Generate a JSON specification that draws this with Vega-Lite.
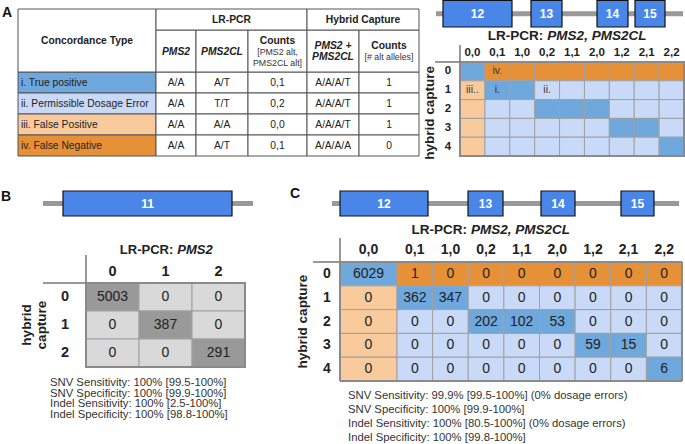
{
"$schema": "https://vega.github.io/schema/vega-lite/v6.json",
"width": 685, "height": 444, "padding": 0,
"autosize": {"type": "none"},
"background": "#ffffff",
"config": {
 "view": {"stroke": null},
 "axis": {"disable": true},
 "legend": {"disable": true},
 "font": "Liberation Sans",
 "text": {"font": "Liberation Sans", "fill": "#222222"}
},
"datasets": {
 "concordance": [
  {"type": "i. True positive", "cls": "tp", "PMS2": "A/A", "PMS2CL": "A/T", "Counts": "0,1", "HC": "A/A/A/T", "HCcounts": "1"},
  {"type": "ii. Permissible Dosage Error", "cls": "pde", "PMS2": "A/A", "PMS2CL": "T/T", "Counts": "0,2", "HC": "A/A/A/T", "HCcounts": "1"},
  {"type": "iii. False Positive", "cls": "fp", "PMS2": "A/A", "PMS2CL": "A/A", "Counts": "0,0", "HC": "A/A/A/T", "HCcounts": "1"},
  {"type": "iv. False Negative", "cls": "fn", "PMS2": "A/A", "PMS2CL": "A/T", "Counts": "0,1", "HC": "A/A/A/A", "HCcounts": "0"}
 ],
 "tableHeader": [
  {"col": "type", "part": "title", "text": "Concordance Type"},
  {"col": "type", "part": "panel", "text": "A"},
  {"col": "LR-PCR", "part": "title", "text": "LR-PCR"},
  {"col": "Hybrid Capture", "part": "title", "text": "Hybrid Capture"},
  {"col": "PMS2", "part": "gene", "text": "PMS2"},
  {"col": "PMS2CL", "part": "gene", "text": "PMS2CL"},
  {"col": "Counts", "part": "title", "text": "Counts"},
  {"col": "Counts", "part": "note", "text": ["[PMS2 alt,", "PMS2CL alt]"]},
  {"col": "HC", "part": "gene", "text": ["PMS2 +", "PMS2CL"]},
  {"col": "HCcounts", "part": "title", "text": "Counts"},
  {"col": "HCcounts", "part": "note", "text": "[# alt alleles]"}
 ],
 "exons": [
  {"panel": "A", "feature": "gene", "exon": "", "pos": 0},
  {"panel": "A", "feature": "gene", "exon": "", "pos": 247},
  {"panel": "A", "feature": "exon", "exon": "12", "pos": 7},
  {"panel": "A", "feature": "exon", "exon": "12", "pos": 76},
  {"panel": "A", "feature": "exon", "exon": "13", "pos": 95},
  {"panel": "A", "feature": "exon", "exon": "13", "pos": 126},
  {"panel": "A", "feature": "exon", "exon": "14", "pos": 161},
  {"panel": "A", "feature": "exon", "exon": "14", "pos": 192},
  {"panel": "A", "feature": "exon", "exon": "15", "pos": 199},
  {"panel": "A", "feature": "exon", "exon": "15", "pos": 229},
  {"panel": "B", "feature": "gene", "exon": "", "pos": 0},
  {"panel": "B", "feature": "gene", "exon": "", "pos": 210},
  {"panel": "B", "feature": "exon", "exon": "11", "pos": 20},
  {"panel": "B", "feature": "exon", "exon": "11", "pos": 189},
  {"panel": "C", "feature": "gene", "exon": "", "pos": 0},
  {"panel": "C", "feature": "gene", "exon": "", "pos": 347},
  {"panel": "C", "feature": "exon", "exon": "12", "pos": 8},
  {"panel": "C", "feature": "exon", "exon": "12", "pos": 96},
  {"panel": "C", "feature": "exon", "exon": "13", "pos": 136},
  {"panel": "C", "feature": "exon", "exon": "13", "pos": 171},
  {"panel": "C", "feature": "exon", "exon": "14", "pos": 209},
  {"panel": "C", "feature": "exon", "exon": "14", "pos": 243},
  {"panel": "C", "feature": "exon", "exon": "15", "pos": 289},
  {"panel": "C", "feature": "exon", "exon": "15", "pos": 322}
 ],
 "gridA": [
  {"pcr": "0,0", "hc": "0", "cls": "tn"}, {"pcr": "0,1", "hc": "0", "cls": "fn", "note": "iv."}, {"pcr": "1,0", "hc": "0", "cls": "fn"}, {"pcr": "0,2", "hc": "0", "cls": "fn"}, {"pcr": "1,1", "hc": "0", "cls": "fn"}, {"pcr": "2,0", "hc": "0", "cls": "fn"}, {"pcr": "1,2", "hc": "0", "cls": "fn"}, {"pcr": "2,1", "hc": "0", "cls": "fn"}, {"pcr": "2,2", "hc": "0", "cls": "fn"},
  {"pcr": "0,0", "hc": "1", "cls": "fp", "note": "iii.."}, {"pcr": "0,1", "hc": "1", "cls": "tp", "note": "i."}, {"pcr": "1,0", "hc": "1", "cls": "tp"}, {"pcr": "0,2", "hc": "1", "cls": "pde", "note": "ii."}, {"pcr": "1,1", "hc": "1", "cls": "pde"}, {"pcr": "2,0", "hc": "1", "cls": "pde"}, {"pcr": "1,2", "hc": "1", "cls": "pde"}, {"pcr": "2,1", "hc": "1", "cls": "pde"}, {"pcr": "2,2", "hc": "1", "cls": "pde"},
  {"pcr": "0,0", "hc": "2", "cls": "fp"}, {"pcr": "0,1", "hc": "2", "cls": "pde"}, {"pcr": "1,0", "hc": "2", "cls": "pde"}, {"pcr": "0,2", "hc": "2", "cls": "tp"}, {"pcr": "1,1", "hc": "2", "cls": "tp"}, {"pcr": "2,0", "hc": "2", "cls": "tp"}, {"pcr": "1,2", "hc": "2", "cls": "pde"}, {"pcr": "2,1", "hc": "2", "cls": "pde"}, {"pcr": "2,2", "hc": "2", "cls": "pde"},
  {"pcr": "0,0", "hc": "3", "cls": "fp"}, {"pcr": "0,1", "hc": "3", "cls": "pde"}, {"pcr": "1,0", "hc": "3", "cls": "pde"}, {"pcr": "0,2", "hc": "3", "cls": "pde"}, {"pcr": "1,1", "hc": "3", "cls": "pde"}, {"pcr": "2,0", "hc": "3", "cls": "pde"}, {"pcr": "1,2", "hc": "3", "cls": "tp"}, {"pcr": "2,1", "hc": "3", "cls": "tp"}, {"pcr": "2,2", "hc": "3", "cls": "pde"},
  {"pcr": "0,0", "hc": "4", "cls": "fp"}, {"pcr": "0,1", "hc": "4", "cls": "pde"}, {"pcr": "1,0", "hc": "4", "cls": "pde"}, {"pcr": "0,2", "hc": "4", "cls": "pde"}, {"pcr": "1,1", "hc": "4", "cls": "pde"}, {"pcr": "2,0", "hc": "4", "cls": "pde"}, {"pcr": "1,2", "hc": "4", "cls": "pde"}, {"pcr": "2,1", "hc": "4", "cls": "pde"}, {"pcr": "2,2", "hc": "4", "cls": "tp"}
 ],
 "gridB": [
  {"pcr": "0", "hc": "0", "n": 5003, "cls": "agree"}, {"pcr": "1", "hc": "0", "n": 0, "cls": "disagree"}, {"pcr": "2", "hc": "0", "n": 0, "cls": "disagree"},
  {"pcr": "0", "hc": "1", "n": 0, "cls": "disagree"}, {"pcr": "1", "hc": "1", "n": 387, "cls": "agree"}, {"pcr": "2", "hc": "1", "n": 0, "cls": "disagree"},
  {"pcr": "0", "hc": "2", "n": 0, "cls": "disagree"}, {"pcr": "1", "hc": "2", "n": 0, "cls": "disagree"}, {"pcr": "2", "hc": "2", "n": 291, "cls": "agree"}
 ],
 "gridC": [
  {"pcr": "0,0", "hc": "0", "n": 6029, "cls": "tn"}, {"pcr": "0,1", "hc": "0", "n": 1, "cls": "fn"}, {"pcr": "1,0", "hc": "0", "n": 0, "cls": "fn"}, {"pcr": "0,2", "hc": "0", "n": 0, "cls": "fn"}, {"pcr": "1,1", "hc": "0", "n": 0, "cls": "fn"}, {"pcr": "2,0", "hc": "0", "n": 0, "cls": "fn"}, {"pcr": "1,2", "hc": "0", "n": 0, "cls": "fn"}, {"pcr": "2,1", "hc": "0", "n": 0, "cls": "fn"}, {"pcr": "2,2", "hc": "0", "n": 0, "cls": "fn"},
  {"pcr": "0,0", "hc": "1", "n": 0, "cls": "fp"}, {"pcr": "0,1", "hc": "1", "n": 362, "cls": "tp"}, {"pcr": "1,0", "hc": "1", "n": 347, "cls": "tp"}, {"pcr": "0,2", "hc": "1", "n": 0, "cls": "pde"}, {"pcr": "1,1", "hc": "1", "n": 0, "cls": "pde"}, {"pcr": "2,0", "hc": "1", "n": 0, "cls": "pde"}, {"pcr": "1,2", "hc": "1", "n": 0, "cls": "pde"}, {"pcr": "2,1", "hc": "1", "n": 0, "cls": "pde"}, {"pcr": "2,2", "hc": "1", "n": 0, "cls": "pde"},
  {"pcr": "0,0", "hc": "2", "n": 0, "cls": "fp"}, {"pcr": "0,1", "hc": "2", "n": 0, "cls": "pde"}, {"pcr": "1,0", "hc": "2", "n": 0, "cls": "pde"}, {"pcr": "0,2", "hc": "2", "n": 202, "cls": "tp"}, {"pcr": "1,1", "hc": "2", "n": 102, "cls": "tp"}, {"pcr": "2,0", "hc": "2", "n": 53, "cls": "tp"}, {"pcr": "1,2", "hc": "2", "n": 0, "cls": "pde"}, {"pcr": "2,1", "hc": "2", "n": 0, "cls": "pde"}, {"pcr": "2,2", "hc": "2", "n": 0, "cls": "pde"},
  {"pcr": "0,0", "hc": "3", "n": 0, "cls": "fp"}, {"pcr": "0,1", "hc": "3", "n": 0, "cls": "pde"}, {"pcr": "1,0", "hc": "3", "n": 0, "cls": "pde"}, {"pcr": "0,2", "hc": "3", "n": 0, "cls": "pde"}, {"pcr": "1,1", "hc": "3", "n": 0, "cls": "pde"}, {"pcr": "2,0", "hc": "3", "n": 0, "cls": "pde"}, {"pcr": "1,2", "hc": "3", "n": 59, "cls": "tp"}, {"pcr": "2,1", "hc": "3", "n": 15, "cls": "tp"}, {"pcr": "2,2", "hc": "3", "n": 0, "cls": "pde"},
  {"pcr": "0,0", "hc": "4", "n": 0, "cls": "fp"}, {"pcr": "0,1", "hc": "4", "n": 0, "cls": "pde"}, {"pcr": "1,0", "hc": "4", "n": 0, "cls": "pde"}, {"pcr": "0,2", "hc": "4", "n": 0, "cls": "pde"}, {"pcr": "1,1", "hc": "4", "n": 0, "cls": "pde"}, {"pcr": "2,0", "hc": "4", "n": 0, "cls": "pde"}, {"pcr": "1,2", "hc": "4", "n": 0, "cls": "pde"}, {"pcr": "2,1", "hc": "4", "n": 0, "cls": "pde"}, {"pcr": "2,2", "hc": "4", "n": 6, "cls": "tp"}
 ],
 "stats": [
  {"panel": "B", "line": 1, "text": "SNV Sensitivity: 100% [99.5-100%]"},
  {"panel": "B", "line": 2, "text": "SNV Specificity: 100% [99.9-100%]"},
  {"panel": "B", "line": 3, "text": "Indel Sensitivity: 100% [2.5-100%]"},
  {"panel": "B", "line": 4, "text": "Indel Specificity: 100% [98.8-100%]"},
  {"panel": "C", "line": 1, "text": "SNV Sensitivity: 99.9% [99.5-100%] (0% dosage errors)"},
  {"panel": "C", "line": 2, "text": "SNV Specificity: 100% [99.9-100%]"},
  {"panel": "C", "line": 3, "text": "Indel Sensitivity: 100% [80.5-100%] (0% dosage errors)"},
  {"panel": "C", "line": 4, "text": "Indel Specificity: 100% [99.8-100%]"}
 ]
},
"resolve": {"scale": {"x": "independent", "y": "independent", "color": "independent"}},
"layer": [
 {
  "resolve": {"scale": {"x": "independent"}},
  "layer": [
   {
    "encoding": {"x": {"field": "col", "type": "nominal", "scale": {"type": "band", "domain": ["type"], "range": [18, 156], "paddingInner": 0, "paddingOuter": 0}}},
    "layer": [
     {"data": {"name": "concordance"}, "transform": [{"fold": ["type"], "as": ["col", "val"]}],
      "encoding": {"y": {"field": "type", "type": "nominal", "scale": {"type": "band", "domain": ["head1", "head2", "head2b", "i. True positive", "ii. Permissible Dosage Error", "iii. False Positive", "iv. False Negative"], "range": [9, 156], "paddingInner": 0, "paddingOuter": 0}}},
      "layer": [
       {"mark": {"type": "rect", "stroke": "#555555", "strokeWidth": 1}, "encoding": {"color": {"field": "cls", "type": "nominal", "scale": {"domain": ["tp", "pde", "fp", "fn"], "range": ["#6fa8dc", "#c9daf8", "#f9cb9c", "#e69138"]}}}},
       {"mark": {"type": "text", "align": "left", "fontSize": 10.3, "dx": 3}, "encoding": {"x": {"field": "col", "type": "nominal", "bandPosition": 0}, "text": {"field": "val"}}}
      ]},
     {"data": {"name": "tableHeader"}, "transform": [{"filter": "datum.col == 'type'"}],
      "layer": [
       {"transform": [{"filter": "datum.part == 'title'"}], "mark": {"type": "rect", "fill": "#ffffff", "stroke": "#555555", "strokeWidth": 1}, "encoding": {"y": {"datum": "head1", "bandPosition": 0}, "y2": {"datum": "i. True positive", "bandPosition": 0}}},
       {"transform": [{"filter": "datum.part == 'title'"}], "mark": {"type": "text", "fontSize": 10.3, "fontWeight": "bold"}, "encoding": {"y": {"datum": "head2", "bandPosition": 0.5}, "text": {"field": "text"}}},
       {"transform": [{"filter": "datum.part == 'panel'"}], "mark": {"type": "text", "fontSize": 14, "fontWeight": "bold", "dx": -11, "fill": "#111111"}, "encoding": {"x": {"field": "col", "type": "nominal", "bandPosition": 0}, "y": {"datum": "head1", "bandPosition": 0.2}, "text": {"field": "text"}}}
      ]}
    ]
   },
   {
    "encoding": {"x": {"field": "col", "type": "nominal", "scale": {"type": "band", "domain": ["PMS2"], "range": [156, 196], "paddingInner": 0, "paddingOuter": 0}}},
    "layer": [
     {"data": {"name": "concordance"}, "transform": [{"fold": ["PMS2"], "as": ["col", "val"]}],
      "encoding": {"y": {"field": "type", "type": "nominal"}},
      "layer": [
       {"mark": {"type": "rect", "fill": "#ffffff", "stroke": "#555555", "strokeWidth": 1}},
       {"mark": {"type": "text", "fontSize": 10.3}, "encoding": {"text": {"field": "val"}}}
      ]},
     {"data": {"name": "tableHeader"}, "transform": [{"filter": "datum.col == 'PMS2'"}],
      "layer": [
       {"mark": {"type": "rect", "fill": "#ffffff", "stroke": "#555555", "strokeWidth": 1}, "encoding": {"y": {"datum": "head2", "bandPosition": 0}, "y2": {"datum": "i. True positive", "bandPosition": 0}}},
       {"mark": {"type": "text", "fontSize": 10.3, "fontWeight": "bold", "fontStyle": "italic"}, "encoding": {"y": {"datum": "head2b", "bandPosition": 0.05}, "text": {"field": "text"}}}
      ]}
    ]
   },
   {
    "encoding": {"x": {"field": "col", "type": "nominal", "scale": {"type": "band", "domain": ["PMS2CL"], "range": [196, 248], "paddingInner": 0, "paddingOuter": 0}}},
    "layer": [
     {"data": {"name": "concordance"}, "transform": [{"fold": ["PMS2CL"], "as": ["col", "val"]}],
      "encoding": {"y": {"field": "type", "type": "nominal"}},
      "layer": [
       {"mark": {"type": "rect", "fill": "#ffffff", "stroke": "#555555", "strokeWidth": 1}},
       {"mark": {"type": "text", "fontSize": 10.3}, "encoding": {"text": {"field": "val"}}}
      ]},
     {"data": {"name": "tableHeader"}, "transform": [{"filter": "datum.col == 'PMS2CL'"}],
      "layer": [
       {"mark": {"type": "rect", "fill": "#ffffff", "stroke": "#555555", "strokeWidth": 1}, "encoding": {"y": {"datum": "head2", "bandPosition": 0}, "y2": {"datum": "i. True positive", "bandPosition": 0}}},
       {"mark": {"type": "text", "fontSize": 10.3, "fontWeight": "bold", "fontStyle": "italic"}, "encoding": {"y": {"datum": "head2b", "bandPosition": 0.05}, "text": {"field": "text"}}}
      ]}
    ]
   },
   {
    "encoding": {"x": {"field": "col", "type": "nominal", "scale": {"type": "band", "domain": ["Counts"], "range": [248, 307], "paddingInner": 0, "paddingOuter": 0}}},
    "layer": [
     {"data": {"name": "concordance"}, "transform": [{"fold": ["Counts"], "as": ["col", "val"]}],
      "encoding": {"y": {"field": "type", "type": "nominal"}},
      "layer": [
       {"mark": {"type": "rect", "fill": "#ffffff", "stroke": "#555555", "strokeWidth": 1}},
       {"mark": {"type": "text", "fontSize": 10.3}, "encoding": {"text": {"field": "val"}}}
      ]},
     {"data": {"name": "tableHeader"}, "transform": [{"filter": "datum.col == 'Counts'"}],
      "layer": [
       {"transform": [{"filter": "datum.part == 'title'"}], "mark": {"type": "rect", "fill": "#ffffff", "stroke": "#555555", "strokeWidth": 1}, "encoding": {"y": {"datum": "head2", "bandPosition": 0}, "y2": {"datum": "i. True positive", "bandPosition": 0}}},
       {"transform": [{"filter": "datum.part == 'title'"}], "mark": {"type": "text", "fontSize": 10.3, "fontWeight": "bold"}, "encoding": {"y": {"datum": "head2", "bandPosition": 0.52}, "text": {"field": "text"}}},
       {"transform": [{"filter": "datum.part == 'note'"}], "mark": {"type": "text", "fontSize": 8.8, "lineHeight": 11, "fill": "#333333"}, "encoding": {"y": {"datum": "head2b", "bandPosition": 0.05}, "text": {"field": "text"}}}
      ]}
    ]
   },
   {
    "encoding": {"x": {"field": "col", "type": "nominal", "scale": {"type": "band", "domain": ["HC"], "range": [307, 359], "paddingInner": 0, "paddingOuter": 0}}},
    "layer": [
     {"data": {"name": "concordance"}, "transform": [{"fold": ["HC"], "as": ["col", "val"]}],
      "encoding": {"y": {"field": "type", "type": "nominal"}},
      "layer": [
       {"mark": {"type": "rect", "fill": "#ffffff", "stroke": "#555555", "strokeWidth": 1}},
       {"mark": {"type": "text", "fontSize": 10.3}, "encoding": {"text": {"field": "val"}}}
      ]},
     {"data": {"name": "tableHeader"}, "transform": [{"filter": "datum.col == 'HC'"}],
      "layer": [
       {"mark": {"type": "rect", "fill": "#ffffff", "stroke": "#555555", "strokeWidth": 1}, "encoding": {"y": {"datum": "head2", "bandPosition": 0}, "y2": {"datum": "i. True positive", "bandPosition": 0}}},
       {"mark": {"type": "text", "fontSize": 10.3, "fontWeight": "bold", "fontStyle": "italic", "lineHeight": 11}, "encoding": {"y": {"datum": "head2", "bandPosition": 0.76}, "text": {"field": "text"}}}
      ]}
    ]
   },
   {
    "encoding": {"x": {"field": "col", "type": "nominal", "scale": {"type": "band", "domain": ["HCcounts"], "range": [359, 419], "paddingInner": 0, "paddingOuter": 0}}},
    "layer": [
     {"data": {"name": "concordance"}, "transform": [{"fold": ["HCcounts"], "as": ["col", "val"]}],
      "encoding": {"y": {"field": "type", "type": "nominal"}},
      "layer": [
       {"mark": {"type": "rect", "fill": "#ffffff", "stroke": "#555555", "strokeWidth": 1}},
       {"mark": {"type": "text", "fontSize": 10.3}, "encoding": {"text": {"field": "val"}}}
      ]},
     {"data": {"name": "tableHeader"}, "transform": [{"filter": "datum.col == 'HCcounts'"}],
      "layer": [
       {"transform": [{"filter": "datum.part == 'title'"}], "mark": {"type": "rect", "fill": "#ffffff", "stroke": "#555555", "strokeWidth": 1}, "encoding": {"y": {"datum": "head2", "bandPosition": 0}, "y2": {"datum": "i. True positive", "bandPosition": 0}}},
       {"transform": [{"filter": "datum.part == 'title'"}], "mark": {"type": "text", "fontSize": 10.3, "fontWeight": "bold"}, "encoding": {"y": {"datum": "head2", "bandPosition": 0.76}, "text": {"field": "text"}}},
       {"transform": [{"filter": "datum.part == 'note'"}], "mark": {"type": "text", "fontSize": 8.8, "fill": "#333333"}, "encoding": {"y": {"datum": "head2b", "bandPosition": 0.29}, "text": {"field": "text"}}}
      ]}
    ]
   },
   {
    "data": {"name": "tableHeader"}, "transform": [{"filter": "datum.col == 'LR-PCR'"}],
    "encoding": {"x": {"field": "col", "type": "nominal", "scale": {"type": "band", "domain": ["LR-PCR"], "range": [156, 307], "paddingInner": 0, "paddingOuter": 0}}},
    "layer": [
     {"mark": {"type": "rect", "fill": "#ffffff", "stroke": "#555555", "strokeWidth": 1}, "encoding": {"y": {"datum": "head1", "bandPosition": 0}, "y2": {"datum": "head2", "bandPosition": 0}}},
     {"mark": {"type": "text", "fontSize": 10.3, "fontWeight": "bold"}, "encoding": {"y": {"datum": "head1", "bandPosition": 0.5}, "text": {"field": "text"}}}
    ]
   },
   {
    "data": {"name": "tableHeader"}, "transform": [{"filter": "datum.col == 'Hybrid Capture'"}],
    "encoding": {"x": {"field": "col", "type": "nominal", "scale": {"type": "band", "domain": ["Hybrid Capture"], "range": [307, 419], "paddingInner": 0, "paddingOuter": 0}}},
    "layer": [
     {"mark": {"type": "rect", "fill": "#ffffff", "stroke": "#555555", "strokeWidth": 1}, "encoding": {"y": {"datum": "head1", "bandPosition": 0}, "y2": {"datum": "head2", "bandPosition": 0}}},
     {"mark": {"type": "text", "fontSize": 10.3, "fontWeight": "bold"}, "encoding": {"y": {"datum": "head1", "bandPosition": 0.5}, "text": {"field": "text"}}}
    ]
   }
  ]
 },
 {
  "data": {"name": "exons"}, "transform": [{"filter": "datum.panel == 'A'"}],
  "encoding": {"y": {"field": "panel", "type": "nominal", "scale": {"type": "band", "range": [0.5, 27], "paddingInner": 0, "paddingOuter": 0}}},
  "layer": [
   {"transform": [{"filter": "datum.feature == 'gene'"}], "mark": {"type": "rule", "stroke": "#999999", "strokeWidth": 5}, "encoding": {"x": {"field": "pos", "type": "quantitative", "aggregate": "min", "scale": {"domain": [0, 247], "range": [436, 683], "zero": false, "nice": false}}, "x2": {"field": "pos", "aggregate": "max"}, "y": {"field": "panel", "type": "nominal", "bandPosition": 0.5}}},
   {"transform": [{"filter": "datum.feature == 'exon'"}], "mark": {"type": "rect", "fill": "#4a86e8", "stroke": "#111111", "strokeWidth": 1.2}, "encoding": {"x": {"field": "pos", "type": "quantitative", "aggregate": "min"}, "x2": {"field": "pos", "aggregate": "max"}, "detail": {"field": "exon", "type": "nominal"}}},
   {"transform": [{"filter": "datum.feature == 'exon'"}], "mark": {"type": "text", "fill": "#ffffff", "fontWeight": "bold", "fontSize": 12}, "encoding": {"x": {"field": "pos", "type": "quantitative", "aggregate": "mean"}, "text": {"field": "exon", "type": "nominal"}}}
  ]
 },
 {
  "data": {"name": "gridA"},
  "encoding": {
   "x": {"field": "pcr", "type": "nominal", "scale": {"type": "band", "domain": ["0,0", "0,1", "1,0", "0,2", "1,1", "2,0", "1,2", "2,1", "2,2"], "range": [460, 684], "paddingInner": 0, "paddingOuter": 0}},
   "y": {"field": "hc", "type": "nominal", "scale": {"type": "band", "domain": ["0", "1", "2", "3", "4"], "range": [62, 156], "paddingInner": 0, "paddingOuter": 0}}
  },
  "layer": [
   {"mark": {"type": "rect", "stroke": "#a0a0a0", "strokeWidth": 1}, "encoding": {"color": {"field": "cls", "type": "nominal", "scale": {"domain": ["tn", "tp", "pde", "fp", "fn"], "range": ["#6fa8dc", "#6fa8dc", "#c9daf8", "#f9cb9c", "#e69138"]}}}},
   {"transform": [{"filter": "isValid(datum.note)"}], "mark": {"type": "text", "fontSize": 10.5, "fill": "#333333"}, "encoding": {"text": {"field": "note"}}},
   {"transform": [{"filter": "datum.hc == '0'"}], "mark": {"type": "text", "fontSize": 11.5, "fontWeight": "bold", "dy": -9}, "encoding": {"y": {"datum": "0", "bandPosition": 0}, "text": {"field": "pcr"}}},
   {"transform": [{"filter": "datum.pcr == '0,0'"}], "mark": {"type": "text", "fontSize": 11.5, "fontWeight": "bold", "dx": -12}, "encoding": {"x": {"datum": "0,0", "bandPosition": 0}, "text": {"field": "hc"}}},
   {"transform": [{"filter": "datum.pcr == '0,0' && datum.hc == '0'"}],
    "layer": [
     {"mark": {"type": "rect", "fillOpacity": 0, "stroke": "#8a8a8a", "strokeWidth": 2}, "encoding": {"x": {"datum": "0,0", "bandPosition": 0}, "x2": {"datum": "2,2", "bandPosition": 1}, "y": {"datum": "0", "bandPosition": 0}, "y2": {"datum": "4", "bandPosition": 1}}},
     {"mark": {"type": "rule", "stroke": "#777777", "strokeWidth": 1.5, "y2Offset": -17}, "encoding": {"x": {"datum": "0,0", "bandPosition": 0}, "y": {"datum": "0", "bandPosition": 0}, "y2": {"datum": "0", "bandPosition": 0}}},
     {"mark": {"type": "rule", "stroke": "#777777", "strokeWidth": 1.5, "x2Offset": -25}, "encoding": {"x": {"datum": "0,0", "bandPosition": 0}, "x2": {"datum": "0,0", "bandPosition": 0}, "y": {"datum": "0", "bandPosition": 0}}},
     {"mark": {"type": "text", "align": "right", "fontSize": 13.5, "fontWeight": "bold", "dx": -2, "dy": -26}, "encoding": {"x": {"datum": "0,2", "bandPosition": 0.43}, "y": {"datum": "0", "bandPosition": 0}, "text": {"value": "LR-PCR:"}}},
     {"mark": {"type": "text", "align": "left", "fontSize": 13.5, "fontWeight": "bold", "fontStyle": "italic", "dx": 2, "dy": -26}, "encoding": {"x": {"datum": "0,2", "bandPosition": 0.43}, "y": {"datum": "0", "bandPosition": 0}, "text": {"value": "PMS2, PMS2CL"}}},
     {"mark": {"type": "text", "angle": 270, "fontSize": 13.5, "fontWeight": "bold", "dy": -30}, "encoding": {"x": {"datum": "0,0", "bandPosition": 0}, "y": {"datum": "2", "bandPosition": 0.7}, "text": {"value": "hybrid capture"}}}
    ]}
  ]
 },
 {
  "data": {"name": "exons"}, "transform": [{"filter": "datum.panel == 'B'"}],
  "encoding": {"y": {"field": "panel", "type": "nominal", "scale": {"type": "band", "range": [191, 216], "paddingInner": 0, "paddingOuter": 0}}},
  "layer": [
   {"transform": [{"filter": "datum.feature == 'gene'"}], "mark": {"type": "rule", "stroke": "#999999", "strokeWidth": 5}, "encoding": {"x": {"field": "pos", "type": "quantitative", "aggregate": "min", "scale": {"domain": [0, 210], "range": [43, 253], "zero": false, "nice": false}}, "x2": {"field": "pos", "aggregate": "max"}, "y": {"field": "panel", "type": "nominal", "bandPosition": 0.5}}},
   {"transform": [{"filter": "datum.feature == 'exon'"}], "mark": {"type": "rect", "fill": "#4a86e8", "stroke": "#111111", "strokeWidth": 1.2}, "encoding": {"x": {"field": "pos", "type": "quantitative", "aggregate": "min"}, "x2": {"field": "pos", "aggregate": "max"}, "detail": {"field": "exon", "type": "nominal"}}},
   {"transform": [{"filter": "datum.feature == 'exon'"}], "mark": {"type": "text", "fill": "#ffffff", "fontWeight": "bold", "fontSize": 12}, "encoding": {"x": {"field": "pos", "type": "quantitative", "aggregate": "mean"}, "text": {"field": "exon", "type": "nominal"}}},
   {"transform": [{"filter": "datum.feature == 'gene'"}], "mark": {"type": "text", "fill": "#111111", "fontWeight": "bold", "fontSize": 14, "dx": -37, "dy": -7}, "encoding": {"x": {"field": "pos", "type": "quantitative", "aggregate": "min"}, "text": {"field": "panel", "type": "nominal"}}}
  ]
 },
 {
  "data": {"name": "gridB"},
  "encoding": {
   "x": {"field": "pcr", "type": "nominal", "scale": {"type": "band", "domain": ["0", "1", "2"], "range": [86, 245], "paddingInner": 0, "paddingOuter": 0}},
   "y": {"field": "hc", "type": "nominal", "scale": {"type": "band", "domain": ["0", "1", "2"], "range": [283, 367], "paddingInner": 0, "paddingOuter": 0}}
  },
  "layer": [
   {"mark": {"type": "rect", "stroke": "#a0a0a0", "strokeWidth": 1}, "encoding": {"color": {"field": "cls", "type": "nominal", "scale": {"domain": ["agree", "disagree"], "range": ["#999999", "#d9d9d9"]}}}},
   {"mark": {"type": "text", "fontSize": 14}, "encoding": {"text": {"field": "n", "type": "quantitative", "format": "d"}}},
   {"transform": [{"filter": "datum.hc == '0'"}], "mark": {"type": "text", "fontSize": 14.5, "fontWeight": "bold", "dy": -11}, "encoding": {"y": {"datum": "0", "bandPosition": 0}, "text": {"field": "pcr"}}},
   {"transform": [{"filter": "datum.pcr == '0'"}], "mark": {"type": "text", "fontSize": 14.5, "fontWeight": "bold", "dx": -21}, "encoding": {"x": {"datum": "0", "bandPosition": 0}, "text": {"field": "hc"}}},
   {"transform": [{"filter": "datum.pcr == '0' && datum.hc == '0'"}],
    "layer": [
     {"mark": {"type": "rect", "fillOpacity": 0, "stroke": "#8a8a8a", "strokeWidth": 2}, "encoding": {"x": {"datum": "0", "bandPosition": 0}, "x2": {"datum": "2", "bandPosition": 1}, "y": {"datum": "0", "bandPosition": 0}, "y2": {"datum": "2", "bandPosition": 1}}},
     {"mark": {"type": "rule", "stroke": "#777777", "strokeWidth": 1.5, "y2Offset": -28}, "encoding": {"x": {"datum": "0", "bandPosition": 0}, "y": {"datum": "0", "bandPosition": 0}, "y2": {"datum": "0", "bandPosition": 0}}},
     {"mark": {"type": "rule", "stroke": "#777777", "strokeWidth": 1.5, "x2Offset": -43}, "encoding": {"x": {"datum": "0", "bandPosition": 0}, "x2": {"datum": "0", "bandPosition": 0}, "y": {"datum": "0", "bandPosition": 0}}},
     {"mark": {"type": "text", "align": "right", "fontSize": 13, "fontWeight": "bold", "dx": -2, "dy": -33}, "encoding": {"x": {"datum": "1", "bandPosition": 0.685}, "y": {"datum": "0", "bandPosition": 0}, "text": {"value": "LR-PCR:"}}},
     {"mark": {"type": "text", "align": "left", "fontSize": 13, "fontWeight": "bold", "fontStyle": "italic", "dx": 2, "dy": -33}, "encoding": {"x": {"datum": "1", "bandPosition": 0.685}, "y": {"datum": "0", "bandPosition": 0}, "text": {"value": "PMS2"}}},
     {"mark": {"type": "text", "angle": 270, "fontSize": 13.5, "fontWeight": "bold", "dy": -59}, "encoding": {"x": {"datum": "0", "bandPosition": 0}, "y": {"datum": "1", "bandPosition": 0.5}, "text": {"value": "hybrid"}}},
     {"mark": {"type": "text", "angle": 270, "fontSize": 13.5, "fontWeight": "bold", "dy": -44}, "encoding": {"x": {"datum": "0", "bandPosition": 0}, "y": {"datum": "1", "bandPosition": 0.5}, "text": {"value": "capture"}}}
    ]}
  ]
 },
 {
  "data": {"name": "stats"}, "transform": [{"filter": "datum.panel == 'B'"}],
  "mark": {"type": "text", "align": "left", "fontSize": 11.3, "fill": "#333333"},
  "encoding": {
   "x": {"field": "panel", "type": "nominal", "bandPosition": 0, "scale": {"type": "band", "range": [50, 250], "paddingInner": 0, "paddingOuter": 0}},
   "y": {"field": "line", "type": "ordinal", "scale": {"type": "point", "range": [383.3, 415], "padding": 0}},
   "text": {"field": "text"}
  }
 },
 {
  "data": {"name": "exons"}, "transform": [{"filter": "datum.panel == 'C'"}],
  "encoding": {"y": {"field": "panel", "type": "nominal", "scale": {"type": "band", "range": [191, 216], "paddingInner": 0, "paddingOuter": 0}}},
  "layer": [
   {"transform": [{"filter": "datum.feature == 'gene'"}], "mark": {"type": "rule", "stroke": "#999999", "strokeWidth": 5}, "encoding": {"x": {"field": "pos", "type": "quantitative", "aggregate": "min", "scale": {"domain": [0, 347], "range": [332, 679], "zero": false, "nice": false}}, "x2": {"field": "pos", "aggregate": "max"}, "y": {"field": "panel", "type": "nominal", "bandPosition": 0.5}}},
   {"transform": [{"filter": "datum.feature == 'exon'"}], "mark": {"type": "rect", "fill": "#4a86e8", "stroke": "#111111", "strokeWidth": 1.2}, "encoding": {"x": {"field": "pos", "type": "quantitative", "aggregate": "min"}, "x2": {"field": "pos", "aggregate": "max"}, "detail": {"field": "exon", "type": "nominal"}}},
   {"transform": [{"filter": "datum.feature == 'exon'"}], "mark": {"type": "text", "fill": "#ffffff", "fontWeight": "bold", "fontSize": 12}, "encoding": {"x": {"field": "pos", "type": "quantitative", "aggregate": "mean"}, "text": {"field": "exon", "type": "nominal"}}},
   {"transform": [{"filter": "datum.feature == 'gene'"}], "mark": {"type": "text", "fill": "#111111", "fontWeight": "bold", "fontSize": 14, "dx": -37, "dy": -10}, "encoding": {"x": {"field": "pos", "type": "quantitative", "aggregate": "min"}, "text": {"field": "panel", "type": "nominal"}}}
  ]
 },
 {
  "data": {"name": "gridC"},
  "encoding": {"y": {"field": "hc", "type": "nominal", "scale": {"type": "band", "domain": ["0", "1", "2", "3", "4"], "range": [262, 381], "paddingInner": 0, "paddingOuter": 0}}},
  "resolve": {"scale": {"x": "independent"}},
  "layer": [
   {
    "transform": [{"filter": "datum.pcr == '0,0'"}],
    "encoding": {"x": {"field": "pcr", "type": "nominal", "scale": {"type": "band", "domain": ["0,0"], "range": [340, 397], "paddingInner": 0, "paddingOuter": 0}}},
    "layer": [
     {"mark": {"type": "rect", "stroke": "#a0a0a0", "strokeWidth": 1}, "encoding": {"color": {"field": "cls", "type": "nominal", "scale": {"domain": ["tn", "tp", "pde", "fp", "fn"], "range": ["#6fa8dc", "#6fa8dc", "#c9daf8", "#f9cb9c", "#e69138"]}}}},
     {"mark": {"type": "text", "fontSize": 14}, "encoding": {"text": {"field": "n", "type": "quantitative", "format": "d"}}},
     {"transform": [{"filter": "datum.hc == '0'"}], "mark": {"type": "text", "fontSize": 14, "fontWeight": "bold", "dy": -12}, "encoding": {"y": {"datum": "0", "bandPosition": 0}, "text": {"field": "pcr"}}},
     {"mark": {"type": "text", "fontSize": 14, "fontWeight": "bold", "dx": -13}, "encoding": {"x": {"datum": "0,0", "bandPosition": 0}, "text": {"field": "hc"}}},
     {"transform": [{"filter": "datum.hc == '0'"}],
      "layer": [
       {"mark": {"type": "rule", "stroke": "#777777", "strokeWidth": 1.5, "y2Offset": -24}, "encoding": {"x": {"datum": "0,0", "bandPosition": 0}, "y": {"datum": "0", "bandPosition": 0}, "y2": {"datum": "0", "bandPosition": 0}}},
       {"mark": {"type": "rule", "stroke": "#777777", "strokeWidth": 1.5, "x2Offset": -27}, "encoding": {"x": {"datum": "0,0", "bandPosition": 0}, "x2": {"datum": "0,0", "bandPosition": 0}, "y": {"datum": "0", "bandPosition": 0}}},
       {"mark": {"type": "rule", "stroke": "#8a8a8a", "strokeWidth": 2}, "encoding": {"x": {"datum": "0,0", "bandPosition": 0}, "x2": {"datum": "0,0", "bandPosition": 1}, "y": {"datum": "0", "bandPosition": 0}}},
       {"mark": {"type": "rule", "stroke": "#8a8a8a", "strokeWidth": 2}, "encoding": {"x": {"datum": "0,0", "bandPosition": 0}, "x2": {"datum": "0,0", "bandPosition": 1}, "y": {"datum": "4", "bandPosition": 1}}},
       {"mark": {"type": "rule", "stroke": "#8a8a8a", "strokeWidth": 2}, "encoding": {"x": {"datum": "0,0", "bandPosition": 0}, "y": {"datum": "0", "bandPosition": 0}, "y2": {"datum": "4", "bandPosition": 1}}},
       {"mark": {"type": "text", "angle": 270, "fontSize": 13.5, "fontWeight": "bold", "dy": -37}, "encoding": {"x": {"datum": "0,0", "bandPosition": 0}, "y": {"datum": "2", "bandPosition": 0.5}, "text": {"value": "hybrid capture"}}}
      ]}
    ]
   },
   {
    "transform": [{"filter": "datum.pcr != '0,0'"}],
    "encoding": {"x": {"field": "pcr", "type": "nominal", "scale": {"type": "band", "domain": ["0,1", "1,0", "0,2", "1,1", "2,0", "1,2", "2,1", "2,2"], "range": [397, 682], "paddingInner": 0, "paddingOuter": 0}}},
    "layer": [
     {"mark": {"type": "rect", "stroke": "#a0a0a0", "strokeWidth": 1}, "encoding": {"color": {"field": "cls", "type": "nominal", "scale": {"domain": ["tn", "tp", "pde", "fp", "fn"], "range": ["#6fa8dc", "#6fa8dc", "#c9daf8", "#f9cb9c", "#e69138"]}}}},
     {"mark": {"type": "text", "fontSize": 14}, "encoding": {"text": {"field": "n", "type": "quantitative", "format": "d"}}},
     {"transform": [{"filter": "datum.hc == '0'"}], "mark": {"type": "text", "fontSize": 14, "fontWeight": "bold", "dy": -12}, "encoding": {"y": {"datum": "0", "bandPosition": 0}, "text": {"field": "pcr"}}},
     {"transform": [{"filter": "datum.hc == '0' && datum.pcr == '0,1'"}],
      "layer": [
       {"mark": {"type": "rule", "stroke": "#8a8a8a", "strokeWidth": 2}, "encoding": {"x": {"datum": "0,1", "bandPosition": 0}, "x2": {"datum": "2,2", "bandPosition": 1}, "y": {"datum": "0", "bandPosition": 0}}},
       {"mark": {"type": "rule", "stroke": "#8a8a8a", "strokeWidth": 2}, "encoding": {"x": {"datum": "0,1", "bandPosition": 0}, "x2": {"datum": "2,2", "bandPosition": 1}, "y": {"datum": "4", "bandPosition": 1}}},
       {"mark": {"type": "rule", "stroke": "#8a8a8a", "strokeWidth": 2}, "encoding": {"x": {"datum": "2,2", "bandPosition": 1}, "y": {"datum": "0", "bandPosition": 0}, "y2": {"datum": "4", "bandPosition": 1}}},
       {"mark": {"type": "text", "align": "right", "fontSize": 13.5, "fontWeight": "bold", "dx": -2, "dy": -32}, "encoding": {"x": {"datum": "0,2", "bandPosition": 0.02}, "y": {"datum": "0", "bandPosition": 0}, "text": {"value": "LR-PCR:"}}},
       {"mark": {"type": "text", "align": "left", "fontSize": 13.5, "fontWeight": "bold", "fontStyle": "italic", "dx": 2, "dy": -32}, "encoding": {"x": {"datum": "0,2", "bandPosition": 0.02}, "y": {"datum": "0", "bandPosition": 0}, "text": {"value": "PMS2, PMS2CL"}}}
      ]}
    ]
   }
  ]
 },
 {
  "data": {"name": "stats"}, "transform": [{"filter": "datum.panel == 'C'"}],
  "mark": {"type": "text", "align": "left", "fontSize": 11.3, "fill": "#333333"},
  "encoding": {
   "x": {"field": "panel", "type": "nominal", "bandPosition": 0, "scale": {"type": "band", "range": [348, 680], "paddingInner": 0, "paddingOuter": 0}},
   "y": {"field": "line", "type": "ordinal", "scale": {"type": "point", "range": [396, 437.7], "padding": 0}},
   "text": {"field": "text"}
  }
 }
]
}
